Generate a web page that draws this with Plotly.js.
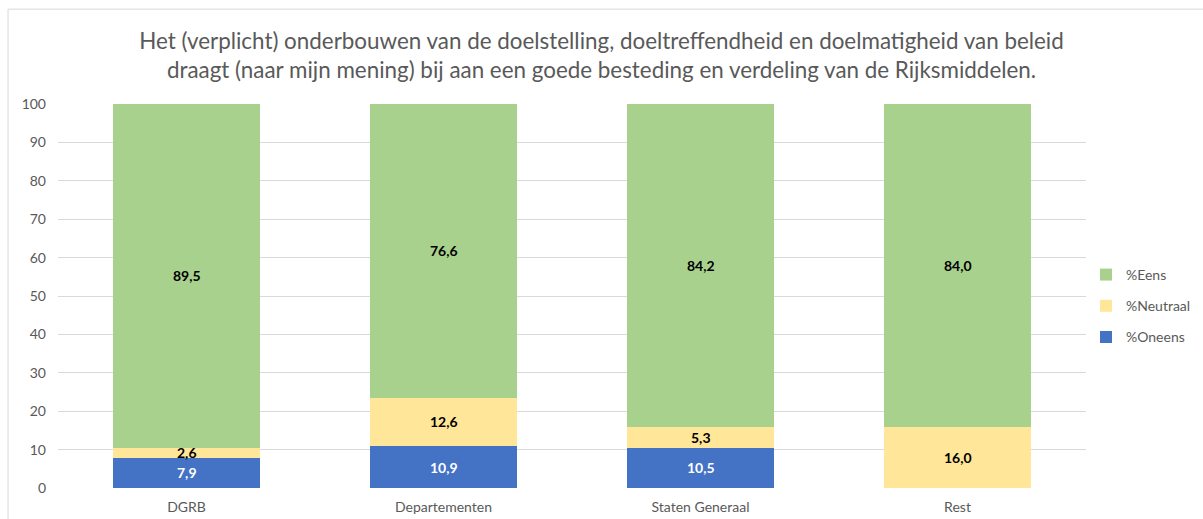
<!DOCTYPE html>
<html>
<head>
<meta charset="utf-8">
<script src="https://cdn.plot.ly/plotly-3.0.1.min.js"></script>
<style>html,body{margin:0;padding:0;background:#fff;}#chart{width:1203px;height:519px;}</style>
</head>
<body>
<div id="chart"></div>
<script>
var categories = ["DGRB", "Departementen", "Staten Generaal", "Rest"];
var oneens = [7.9, 10.9, 10.5, 0];
var neutraal = [2.6, 12.6, 5.3, 16.0];
var eens = [89.5, 76.6, 84.2, 84.0];
var yTicks = [0, 10, 20, 30, 40, 50, 60, 70, 80, 90, 100];

function fmtVal(v) { return v.toFixed(1).replace('.', ','); }

var FONT = 'Lato, "Open Sans", sans-serif';

function tr(name, vals, color, rank) {
  return {
    type: 'bar', name: name, x: categories, y: vals,
    marker: {color: color}, legendgroup: name, legendrank: rank,
    hoverinfo: 'x+y'
  };
}

var data = [
  tr('%Oneens', oneens, '#4472C4', 3),
  tr('%Neutraal', neutraal, '#FFE699', 2),
  tr('%Eens', eens, '#A9D18E', 1)
];

// data labels centred in each segment, from the data arrays
var annotations = [];
var series = [[oneens, '#ffffff'], [neutraal, '#000000'], [eens, '#000000']];
categories.forEach(function (c, i) {
  var base = 0;
  series.forEach(function (s) {
    var v = s[0][i];
    if (v > 0) {
      annotations.push({
        x: c, y: base + v / 2, xref: 'x', yref: 'y', text: '<b>' + fmtVal(v) + '</b>',
        showarrow: false, font: {family: FONT, size: 14, color: s[1]}
      });
    }
    base += v;
  });
});

var layout = {
  width: 1203, height: 519,
  margin: {l: 58, r: 117, t: 104, b: 31, autoexpand: false},
  paper_bgcolor: '#ffffff', plot_bgcolor: '#ffffff',
  barmode: 'stack', bargap: 0.43,
  font: {family: FONT, size: 14, color: '#595959'},
  title: {
    text: 'Het (verplicht) onderbouwen van de doelstelling, doeltreffendheid en doelmatigheid van beleid<br>draagt (naar mijn mening) bij aan een goede besteding en verdeling van de Rijksmiddelen.',
    font: {family: FONT, size: 22.4, color: '#595959'},
    x: 0.5, xanchor: 'center', y: 0.905, yanchor: 'middle', xref: 'container'
  },
  xaxis: {
    type: 'category', showgrid: false, zeroline: false, showline: false, ticks: '',
    ticklabelstandoff: 9, tickfont: {family: FONT, size: 14, color: '#595959'}
  },
  yaxis: {
    range: [0, 100], tickvals: yTicks, ticktext: yTicks.map(String),
    showgrid: true, gridcolor: '#D9D9D9', gridwidth: 1, zeroline: false, showline: false,
    ticks: '', ticklabelstandoff: 11, tickfont: {family: FONT, size: 14, color: '#595959'}
  },
  legend: {
    x: 1.0, xanchor: 'left', y: 0.474, yanchor: 'middle',
    font: {family: FONT, size: 14, color: '#595959'},
    traceorder: 'grouped', tracegroupgap: 10,
    itemwidth: 30
  },
  showlegend: true,
  annotations: annotations,
  shapes: [
    {type: 'line', xref: 'paper', yref: 'paper', x0: -0.0486, x1: -0.0486, y0: 1.247, y1: -0.1, line: {color: '#D9D9D9', width: 1}},
    {type: 'line', xref: 'paper', yref: 'paper', x0: -0.0486, x1: 1.12, y0: 1.247, y1: 1.247, line: {color: '#D9D9D9', width: 1}}
  ]
};

Plotly.newPlot('chart', data, layout, {displayModeBar: false, responsive: false});
</script>
</body>
</html>
